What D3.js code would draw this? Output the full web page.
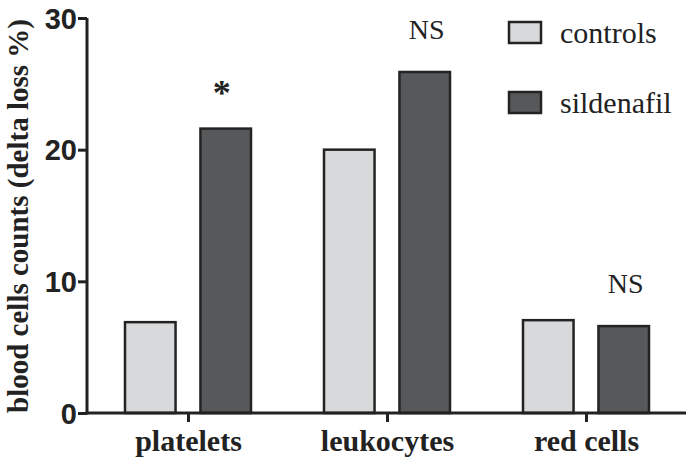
<!DOCTYPE html>
<html><head><meta charset="utf-8">
<script src="https://cdn.jsdelivr.net/npm/d3@7"></script>
<style>body{margin:0;background:#fff}</style>
</head><body>
<svg id="c" width="696" height="459"></svg>
<script>
const categories = ["platelets", "leukocytes", "red cells"];
const seriesNames = ["controls", "sildenafil"];
const controls = [6.9, 20.0, 7.05];
const sildenafil = [21.6, 25.9, 6.6];
const annotations = ["*", "NS", "NS"];
const yTicks = [0, 10, 20, 30];
const colors = ["#d8d9db", "#57585a"];

const svg = d3.select("#c");
const x0 = 87, x1 = 686, yTop = 18, yBot = 413;
const serif = "Liberation Serif, Times New Roman, serif";
const sans = "Liberation Sans, Arial, sans-serif";
const xc = d3.scalePoint().domain(categories).range([188, 586]);
const y = d3.scaleLinear().domain([0, 30]).range([yBot, yTop]);
const sub = d3.scaleBand().domain(seriesNames).range([-63, 63]).paddingInner(0.33);

const data = categories.map((c, i) => ({c, vals: [controls[i], sildenafil[i]]}));

const g = svg.append("g");
data.forEach((d, i) => {
  const cx = xc(d.c);
  d.vals.forEach((v, j) => {
    g.append("rect")
      .attr("x", cx + sub(seriesNames[j]))
      .attr("y", y(v))
      .attr("width", sub.bandwidth())
      .attr("height", y(0) - y(v))
      .attr("fill", colors[j])
      .attr("stroke", "#232323")
      .attr("stroke-width", 2.5);
  });
  const top = y(d.vals[1]);
  const sx = cx + sub("sildenafil") + sub.bandwidth() / 2;
  const isStar = annotations[i] === "*";
  g.append("text")
    .attr("x", isStar ? sx - 4 : sx + 2)
    .attr("y", isStar ? top - 24 : top - 33)
    .attr("text-anchor", "middle")
    .attr("font-family", serif)
    .attr("font-weight", isStar ? "bold" : "normal")
    .attr("font-size", isStar ? 36 : 28)
    .attr("fill", "#222")
    .text(annotations[i]);
});

// y axis
const ya = svg.append("g").attr("transform", `translate(${x0},0)`)
  .call(d3.axisLeft(y).tickValues(yTicks).tickSize(9).tickSizeOuter(0).tickPadding(1));
ya.select(".domain").attr("stroke", "#222").attr("stroke-width", 3).attr("d", `M0,${yTop}V${yBot+1.5}`);
ya.selectAll(".tick line").attr("stroke", "#222").attr("stroke-width", 3);
ya.selectAll(".tick text").attr("font-family", sans)
  .attr("font-weight", "bold").attr("font-size", 29).attr("fill", "#222").attr("dy", "0.35em");

// x axis
const xa = svg.append("g").attr("transform", `translate(0,${yBot})`)
  .call(d3.axisBottom(xc).tickSize(9).tickSizeOuter(0).tickPadding(4));
xa.select(".domain").attr("stroke", "#222").attr("stroke-width", 3).attr("d", `M${x0-1.5},0H${x1}`);
xa.selectAll(".tick line").attr("stroke", "#222").attr("stroke-width", 3);
xa.selectAll(".tick text").attr("font-family", serif)
  .attr("font-weight", "bold").attr("font-size", 30).attr("fill", "#222")
  .attr("dy", null).attr("y", 38);

// y title
svg.append("text")
  .attr("transform", "translate(28,216) rotate(-90)")
  .attr("text-anchor", "middle")
  .attr("font-family", serif)
  .attr("font-weight", "bold").attr("font-size", 29).attr("fill", "#222")
  .text("blood cells counts (delta loss %)");

// legend
const leg = svg.append("g");
seriesNames.forEach((s, j) => {
  const ly = 22 + j * 70;
  leg.append("rect").attr("x", 509).attr("y", ly).attr("width", 32).attr("height", 21)
    .attr("fill", colors[j]).attr("stroke", "#232323").attr("stroke-width", 2.5);
  leg.append("text").attr("x", 560).attr("y", ly + 21)
    .attr("font-family", serif)
    .attr("font-size", 30).attr("fill", "#222").text(s);
});
</script>
</body></html>
